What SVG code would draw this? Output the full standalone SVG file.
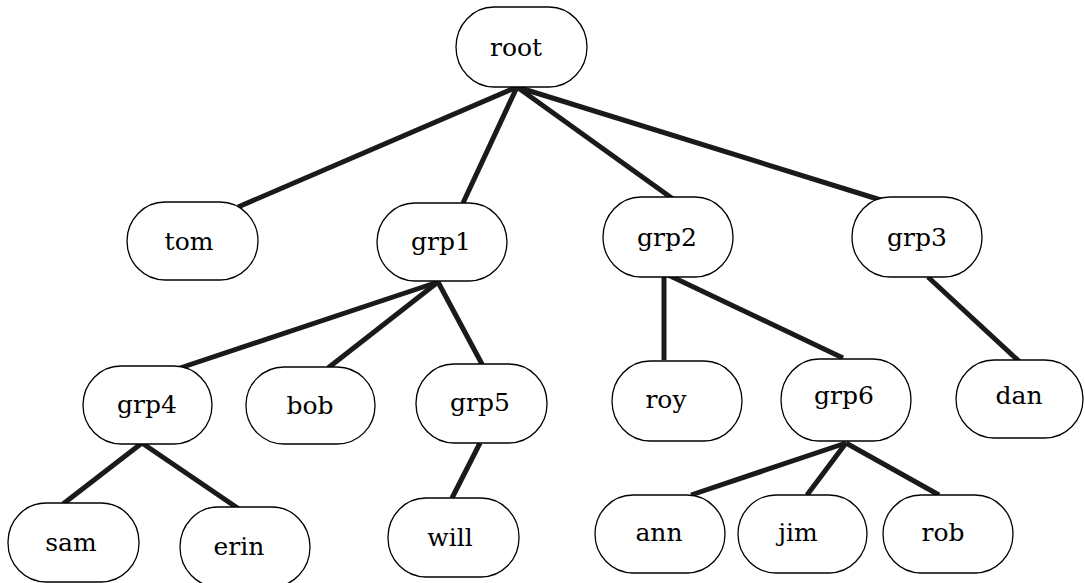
<svg xmlns="http://www.w3.org/2000/svg" width="1085" height="583" viewBox="0 0 1085 583">
  <style>
    .box { fill: #ffffff; stroke: #000000; stroke-width: 1.3; }
    .edge { stroke: #1a1a1a; stroke-width: 5; stroke-linecap: butt; fill: none; }
    text { font-family: "DejaVu Serif", serif; font-size: 25px; text-anchor: middle; fill: #000000; }
  </style>
  <rect width="1085" height="583" fill="#ffffff"/>

  <!-- tree edges -->
  <g id="connectors">
    <line class="edge" x1="517" y1="87" x2="238" y2="207"/>
    <line class="edge" x1="517" y1="87" x2="463" y2="203"/>
    <line class="edge" x1="517" y1="87" x2="673" y2="199"/>
    <line class="edge" x1="517" y1="87" x2="884" y2="201"/>
    <line class="edge" x1="438" y1="282" x2="180" y2="368"/>
    <line class="edge" x1="438" y1="282" x2="328" y2="368"/>
    <line class="edge" x1="438" y1="282" x2="483" y2="366"/>
    <line class="edge" x1="142" y1="443" x2="63" y2="504"/>
    <line class="edge" x1="142" y1="443" x2="239" y2="509"/>
    <line class="edge" x1="480" y1="443" x2="452" y2="498"/>
    <line class="edge" x1="664" y1="272" x2="664" y2="360"/>
    <line class="edge" x1="664" y1="273" x2="843" y2="358"/>
    <line class="edge" x1="928" y1="277" x2="1023" y2="365"/>
    <line class="edge" x1="846" y1="443" x2="691" y2="495"/>
    <line class="edge" x1="846" y1="443" x2="807" y2="495"/>
    <line class="edge" x1="846" y1="443" x2="939" y2="495"/>
  </g>

  <g id="root"><rect class="box" x="456" y="7" width="131" height="80" rx="38" ry="40"/><text x="516" y="56">root</text></g>
  <g id="tom"><rect class="box" x="127" y="202" width="131" height="78" rx="38" ry="39"/><text x="189" y="250">tom</text></g>
  <g id="grp1"><rect class="box" x="377" y="203" width="130" height="78" rx="38" ry="39"/><text x="441" y="250">grp1</text></g>
  <g id="grp2"><rect class="box" x="603" y="197" width="130" height="80" rx="38" ry="40"/><text x="667" y="246">grp2</text></g>
  <g id="grp3"><rect class="box" x="852" y="197" width="130" height="80" rx="38" ry="40"/><text x="917" y="246">grp3</text></g>
  <g id="grp4"><rect class="box" x="83" y="366" width="129" height="78" rx="38" ry="39"/><text x="147" y="413">grp4</text></g>
  <g id="bob"><rect class="box" x="246" y="367" width="129" height="77" rx="38" ry="38"/><text x="310" y="414">bob</text></g>
  <g id="grp5"><rect class="box" x="416" y="364" width="131" height="79" rx="38" ry="39"/><text x="480" y="411">grp5</text></g>
  <g id="roy"><rect class="box" x="612" y="361" width="130" height="80" rx="38" ry="40"/><text x="666" y="408">roy</text></g>
  <g id="grp6"><rect class="box" x="781" y="359" width="130" height="82" rx="38" ry="41"/><text x="844" y="404">grp6</text></g>
  <g id="dan"><rect class="box" x="956" y="360" width="127" height="78" rx="38" ry="39"/><text x="1019" y="404">dan</text></g>
  <g id="sam"><rect class="box" x="8" y="503" width="131" height="79" rx="38" ry="39"/><text x="71" y="551">sam</text></g>
  <g id="erin"><rect class="box" x="180" y="507" width="130" height="80" rx="38" ry="40"/><text x="239" y="555">erin</text></g>
  <g id="will"><rect class="box" x="388" y="498" width="131" height="79" rx="38" ry="39"/><text x="450" y="546">will</text></g>
  <g id="ann"><rect class="box" x="595" y="495" width="130" height="78" rx="38" ry="39"/><text x="659" y="541">ann</text></g>
  <g id="jim"><rect class="box" x="738" y="495" width="129" height="78" rx="38" ry="39"/><text x="798" y="541">jim</text></g>
  <g id="rob"><rect class="box" x="883" y="495" width="130" height="78" rx="38" ry="39"/><text x="943" y="541">rob</text></g>
</svg>
